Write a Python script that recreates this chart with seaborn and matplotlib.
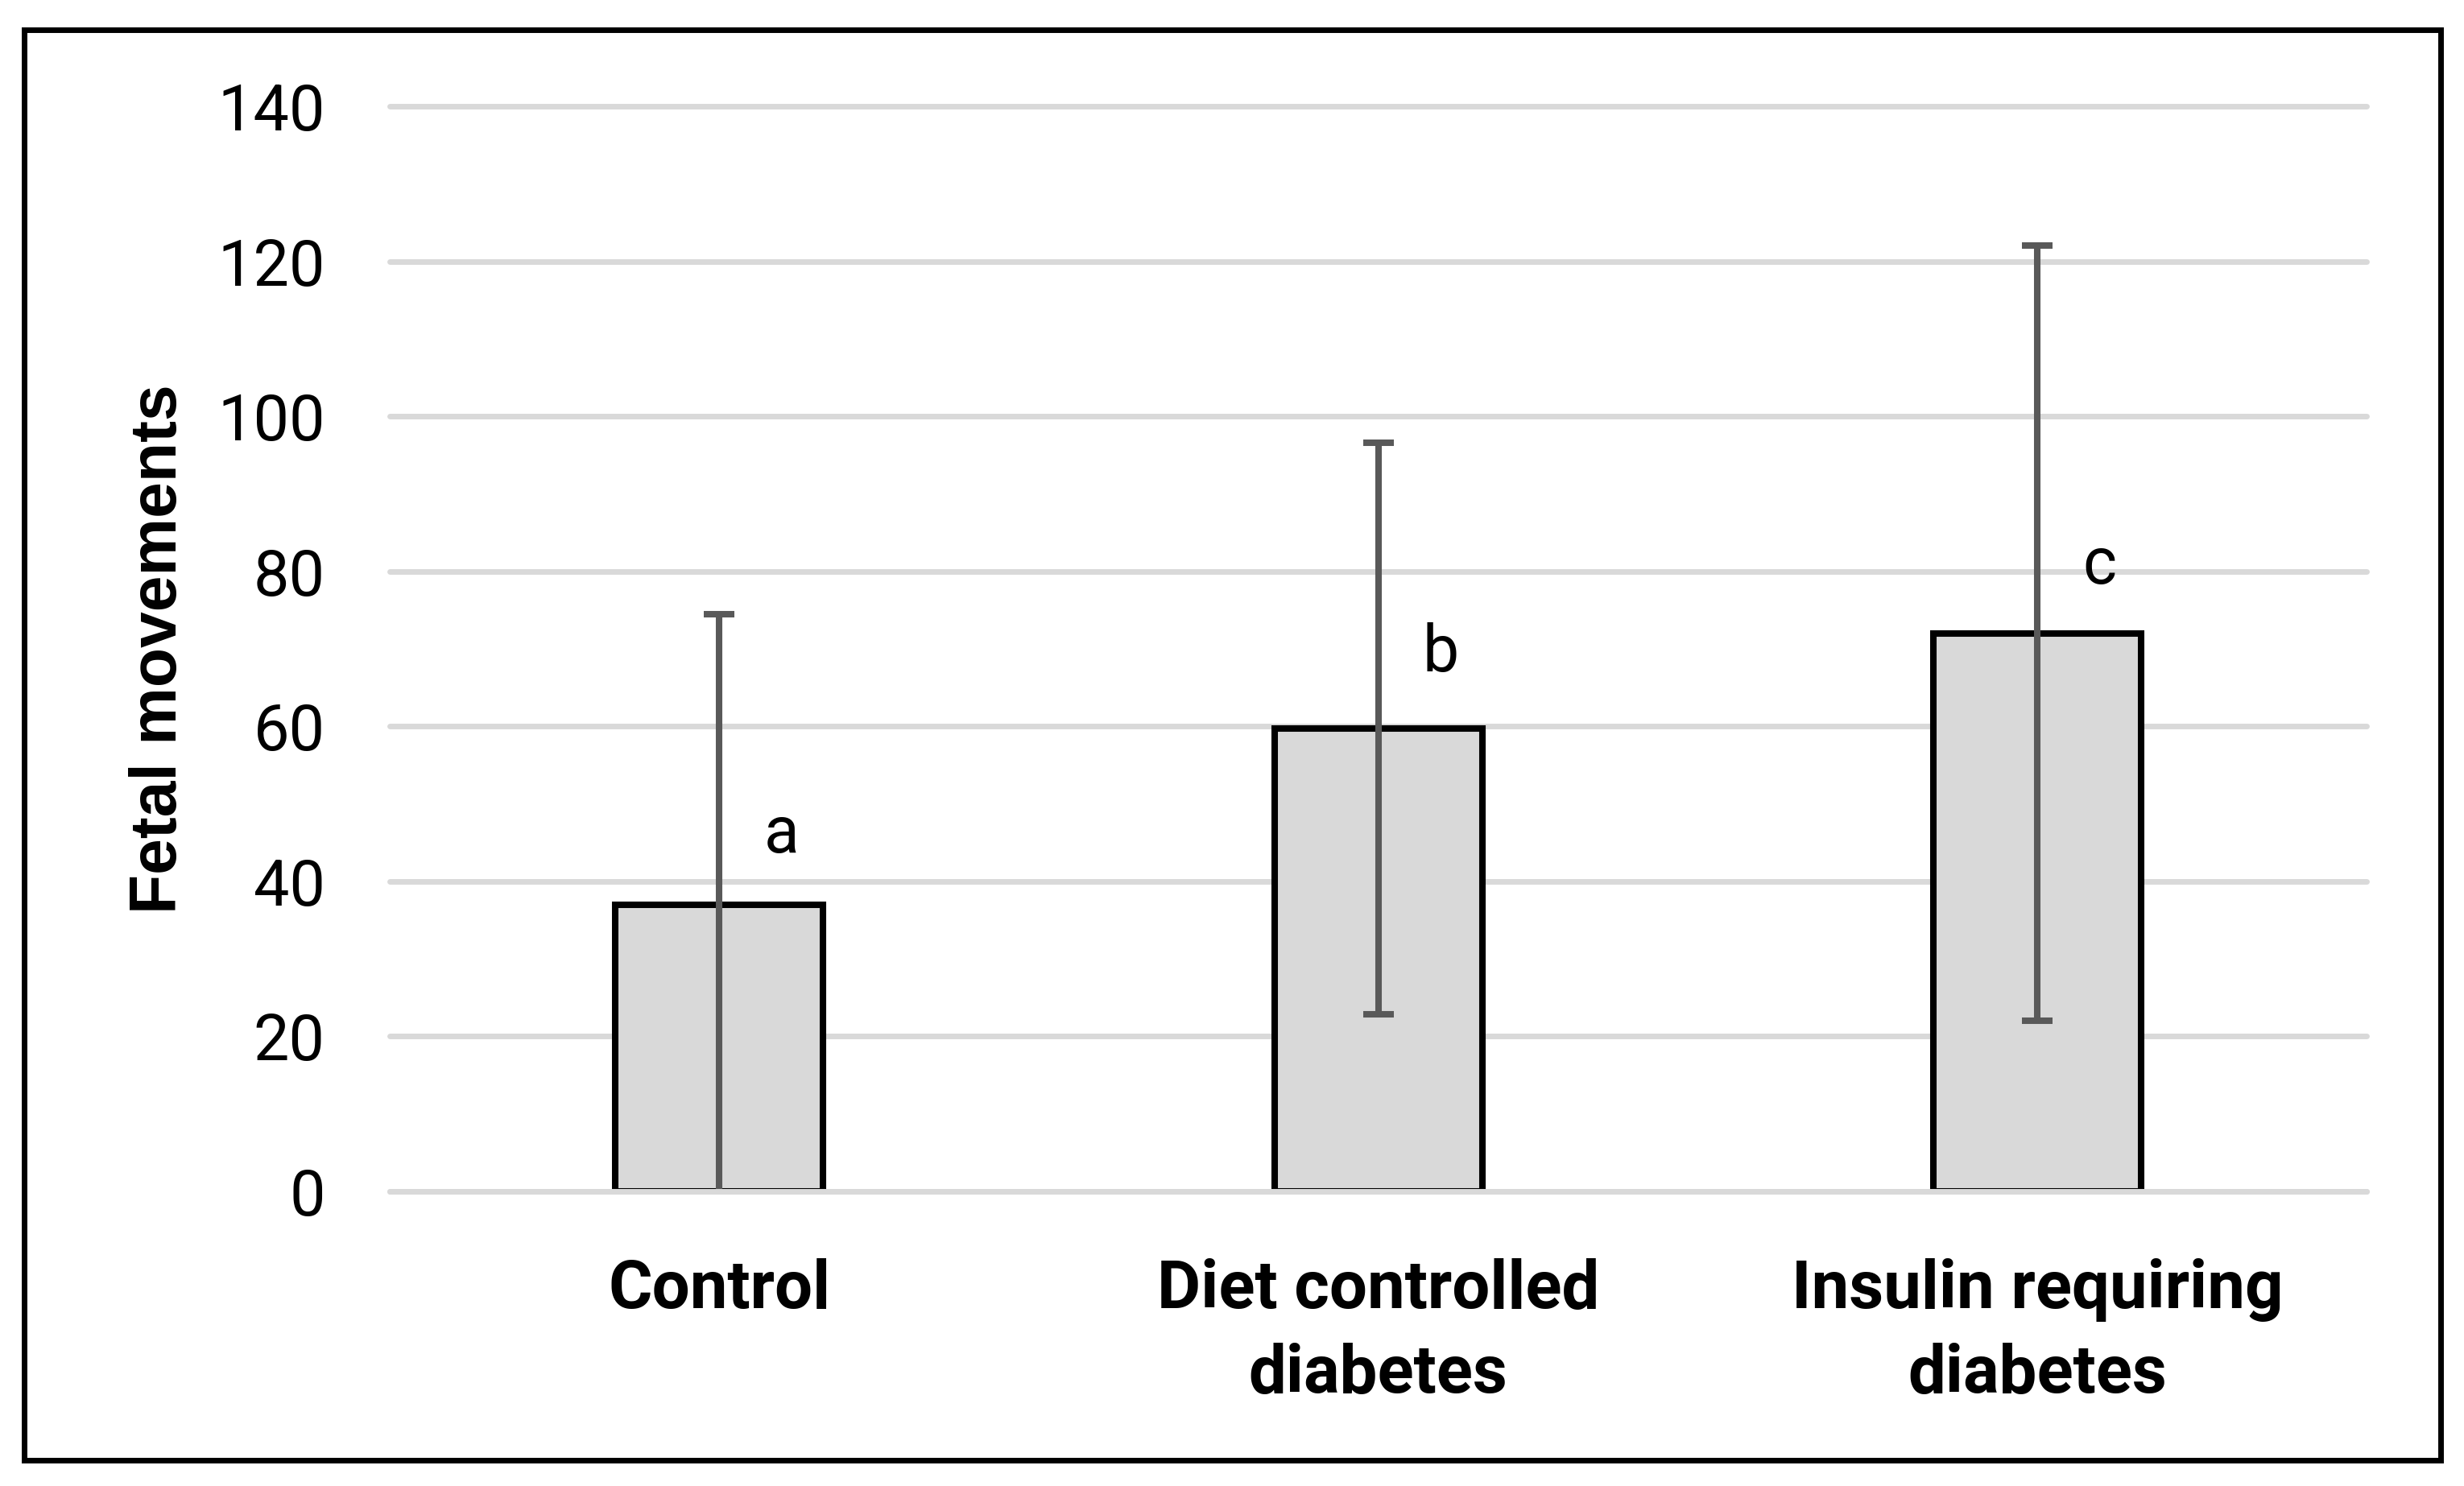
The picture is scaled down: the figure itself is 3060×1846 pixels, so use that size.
import numpy as np
import pandas as pd
import matplotlib
matplotlib.use("Agg")
import matplotlib.pyplot as plt
from matplotlib.patches import Rectangle
import seaborn as sns

# Data
groups = ["Control", "Diet controlled\ndiabetes", "Insulin requiring\ndiabetes"]
means = [37.0, 59.7, 72.0]
sds = [37.5, 36.9, 50.0]
letters = ["a", "b", "c"]
letter_y = [46.0, 69.4, 80.7]
y_ticks = [0, 20, 40, 60, 80, 100, 120, 140]

sns.set_theme(style="white")
plt.rcParams["font.family"] = ["Roboto", "DejaVu Sans"]

df = pd.DataFrame({"group": groups, "mean": means})

fig = plt.figure(figsize=(15.3, 9.23), dpi=200)
ax = fig.add_axes([0.1582, 0.1983, 0.8023, 0.7302])

sns.barplot(data=df, x="group", y="mean", color="#d9d9d9", saturation=1,
            edgecolor="black", linewidth=2.9, width=0.315, errorbar=None, ax=ax)

xpos = np.arange(len(groups))
ax.errorbar(xpos, means, yerr=sds, fmt="none", ecolor="#595959",
            elinewidth=2.9, capsize=7, capthick=2.9, zorder=2)

# letter annotations
for x, lab, ly in zip(xpos, letters, letter_y):
    ax.text(x + 0.095, ly, lab, ha="center", va="center", fontsize=29,
            color="black")

ax.set_xlim(-0.5, 2.5)
ax.set_ylim(0, 140)
ax.set_yticks(y_ticks)
ax.set_axisbelow(True)
ax.grid(axis="y", color="#d9d9d9", linewidth=2.5)
ax.grid(axis="x", visible=False)
for gl in ax.get_ygridlines():
    gl.set_clip_on(False)
ax.axhline(0, color="#d9d9d9", linewidth=2.5, zorder=3, clip_on=False)

for s in ax.spines.values():
    s.set_visible(False)

ax.tick_params(axis="y", length=0, pad=29, labelsize=28.5, labelcolor="black")
ax.tick_params(axis="x", length=0, pad=30, labelcolor="black")
for t in ax.get_xticklabels():
    t.set_fontsize(30)
    t.set_fontweight("bold")
    t.set_linespacing(1.42)

ax.set_xlabel("")
ax.set_ylabel("Fetal movements", fontsize=29, fontweight="bold",
              family=["Liberation Sans", "DejaVu Sans"], color="black")
ax.yaxis.set_label_coords(-0.101, 0.5)

# outer frame around the whole chart
fig.patches.append(Rectangle((29.5 / 3060, 1 - 1814 / 1846),
                             (3031 - 29.5) / 3060, (1814 - 37) / 1846,
                             transform=fig.transFigure, fill=False,
                             edgecolor="black", linewidth=2.5))

fig.savefig("out.png", dpi=200)
